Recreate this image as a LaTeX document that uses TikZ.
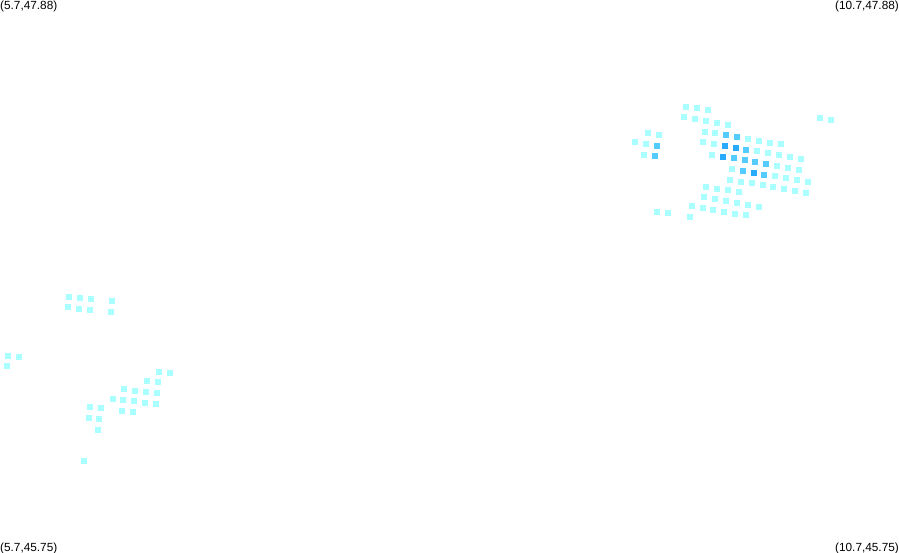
\documentclass[tikz,border=0pt]{standalone}
\usepackage{fontspec}
\setmainfont{Liberation Sans}
\usepackage{xcolor}
\definecolor{cellLow}{RGB}{170,255,255}
\definecolor{cellMid}{RGB}{85,204,255}
\definecolor{cellTop}{RGB}{40,170,255}

\begin{document}
\begin{tikzpicture}[x=1pt,y=-1pt]
  \tikzstyle{corner}=[inner sep=0pt,font=\fontsize{11.8}{12}\selectfont]
  \useasboundingbox (0,0) rectangle (899,552);

  \node[corner,anchor=west] (nw) at (0,6)     {(5.7,47.88)};
  \node[corner,anchor=east] (ne) at (899,6)   {(10.7,47.88)};
  \node[corner,anchor=west] (sw) at (0,548)   {(5.7,45.75)};
  \node[corner,anchor=east] (se) at (899,548) {(10.7,45.75)};

  % lowest band
  \foreach \x/\y in {686/107,697/108,708/110,684/117,695/119,706/121,717/123,728/125,
    648/133,659/135,635/142,646/144,644/155,705/132,715/133,703/142,714/144,712/155,
    748/139,759/141,770/143,781/144,757/151,768/153,779/155,790/157,801/159,
    777/166,788/168,799/170,732/169,775/176,786/178,797/180,808/182,
    730/180,741/182,752/183,763/185,773/187,784/189,795/191,806/193,
    728/190,739/192,706/187,717/189,704/197,715/199,726/201,737/203,748/205,759/207,
    692/206,703/208,713/210,724/212,735/214,746/215,657/212,668/213,690/217,
    820/118,831/120,
    69/297,80/298,91/299,112/301,68/307,79/309,90/310,111/312,
    8/356,19/357,7/366,
    159/372,170/373,147/381,158/382,124/389,135/391,146/392,157/393,
    113/399,123/400,134/401,145/403,156/404,122/411,133/412,
    90/407,101/408,89/418,99/419,98/430,84/461}
    \fill[cellLow] (\x-3.2,\y-3.2) rectangle +(6.4,6.4);

  % middle band
  \foreach \x/\y in {657/146,655/156,726/135,737/137,746/150,734/158,745/160,755/162,
    766/164,743/171,764/175}
    \fill[cellMid] (\x-3.2,\y-3.2) rectangle +(6.4,6.4);

  % highest band
  \foreach \x/\y in {725/146,723/157,736/148,754/173}
    \fill[cellTop] (\x-3.2,\y-3.2) rectangle +(6.4,6.4);
\end{tikzpicture}
\end{document}
